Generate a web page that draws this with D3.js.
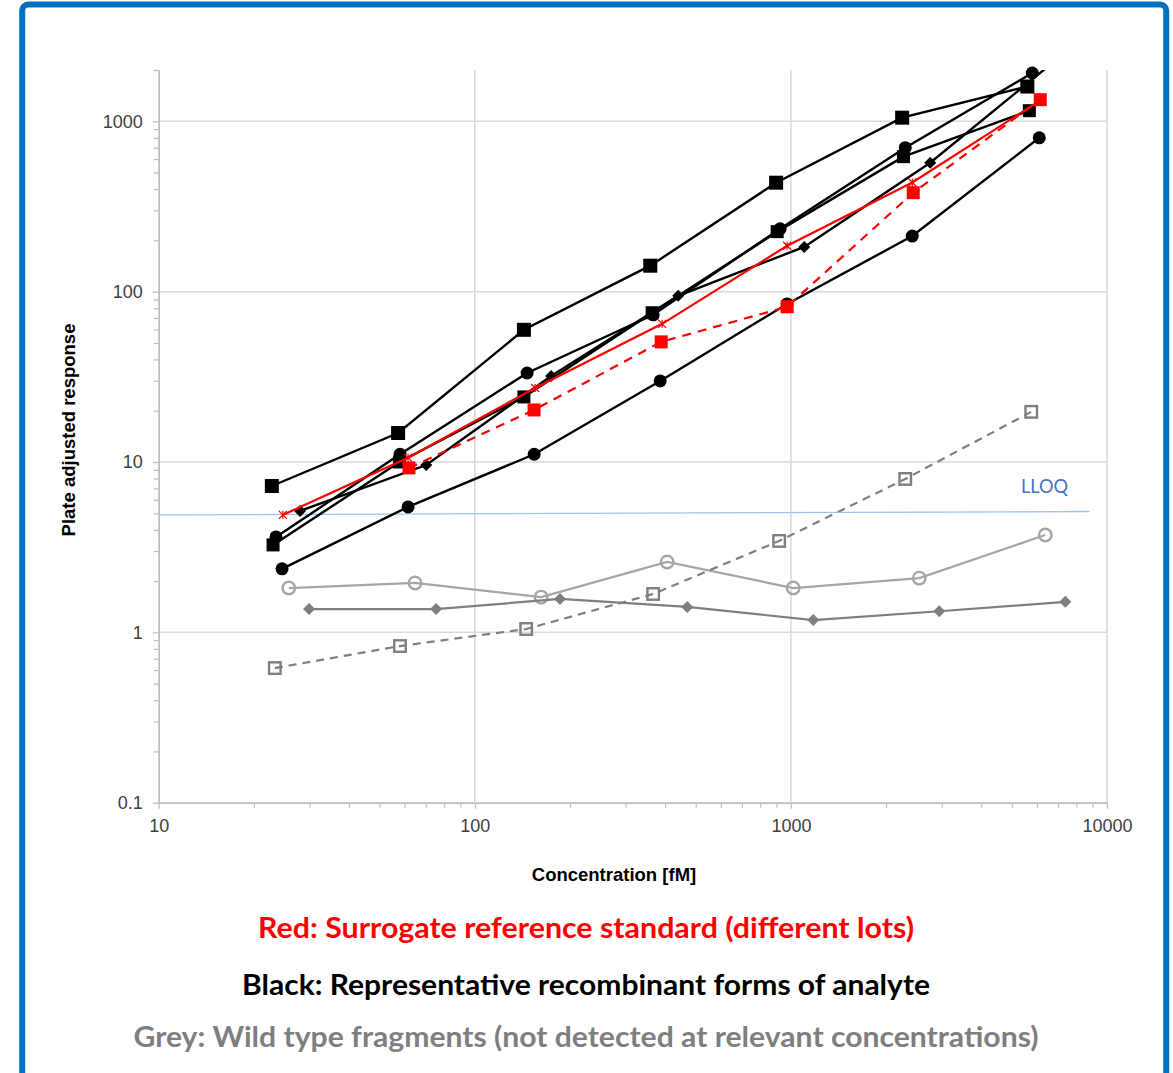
<!DOCTYPE html>
<html>
<head>
<meta charset="utf-8">
<script src="https://cdn.jsdelivr.net/npm/d3@7"></script>
<style>
  body { margin: 0; background: #fff; }
  svg { display: block; }
</style>
</head>
<body>
<div id="chart"></div>
<script>
// axis settings
var yMajor = [0.1, 1, 10, 100, 1000];
var xMajor = [10, 100, 1000, 10000];
var xGrid = [100, 1000, 10000];
var yGrid = [1, 10, 100, 1000];

// black: recombinant forms of analyte
var blackSq1X = [22.8, 57.2, 143, 359, 898, 2249, 5598];
var blackSq1Y = [7.23, 14.8, 59.7, 142, 436, 1050, 1600];
var blackSq2X = [23.0, 57.8, 143, 364, 905, 2270, 5680];
var blackSq2Y = [3.26, 10.0, 24.1, 75.2, 225, 620, 1154];
var blackCi1X = [23.5, 58.0, 146.4, 366.7, 924.8, 2300, 5801];
var blackCi1Y = [3.63, 11.1, 33.3, 73.1, 234, 700, 1920];
var blackCi2X = [24.56, 61.5, 154.1, 385.9, 973, 2421, 6106];
var blackCi2Y = [2.36, 5.45, 11.1, 29.9, 84.7, 212, 800];
var blackDiX = [28.0, 70.2, 174.4, 440, 1102, 2759, 6914];
var blackDiY = [5.16, 9.6, 32.0, 94.5, 183, 571, 2300];

// red: surrogate reference standard
var redSolidX = [24.7, 61.5, 155.2, 391.5, 973, 2421, 6061];
var redSolidY = [4.89, 10.6, 27.2, 64.7, 186, 437, 1303];
var redDashX = [61.9, 154, 388.7, 973, 2438, 6150];
var redDashY = [9.23, 20.2, 50.7, 81.5, 381, 1339];

// grey: wild type fragments
var greyCiX = [25.8, 64.7, 162.1, 406, 1017, 2547, 6379];
var greyCiY = [1.82, 1.95, 1.61, 2.59, 1.82, 2.08, 3.73];
var greyDiX = [29.9, 75.4, 186, 470, 1177, 2947, 7380];
var greyDiY = [1.37, 1.37, 1.57, 1.41, 1.18, 1.33, 1.51];
var greySqX = [23.3, 58.0, 145.4, 366.7, 918, 2300, 5759];
var greySqY = [0.617, 0.831, 1.046, 1.68, 3.44, 7.95, 19.7];

var lloqX = [10, 8800];
var lloqY = [4.89, 5.12];

var legendLines = [
    {text: "Red: Surrogate reference standard (different lots)", color: "#ff0000", len: 656},
    {text: "Black: Representative recombinant forms of analyte", color: "#000000", len: 688},
    {text: "Grey: Wild type fragments (not detected at relevant concentrations)", color: "#7f7f7f", len: 905}
];

var W = 1173, H = 1073;
var svg = d3.select("#chart").append("svg")
    .attr("width", W)
    .attr("height", H);

// blue frame
svg.append("rect")
    .attr("x", 22.2).attr("y", 4.6)
    .attr("width", 1144).attr("height", 1120)
    .attr("rx", 6)
    .attr("fill", "none")
    .attr("stroke", "#0070c0")
    .attr("stroke-width", 6);

var x = d3.scaleLog().domain([10, 10000]).range([158.7, 1107]);
var y = d3.scaleLog().domain([0.1, 2000]).range([802.7, 70]);

var gridColor = "#d9d9d9", axisColor = "#bfbfbf";

// gridlines
svg.append("g").selectAll("line").data(yGrid).enter().append("line")
    .attr("x1", x(10)).attr("x2", x(10000))
    .attr("y1", function(d) { return y(d); })
    .attr("y2", function(d) { return y(d); })
    .attr("stroke", gridColor).attr("stroke-width", 1.5);
svg.append("g").selectAll("line").data(xGrid).enter().append("line")
    .attr("y1", y(0.1)).attr("y2", y(2000))
    .attr("x1", function(d) { return x(d); })
    .attr("x2", function(d) { return x(d); })
    .attr("stroke", gridColor).attr("stroke-width", 1.5);

// minor tick values
var yMinor = [], xMinor = [];
[0.1, 1, 10, 100, 1000].forEach(function(b) {
    for (var k = 2; k <= 9; k++) if (b * k <= 2000) yMinor.push(b * k);
});
yMinor.push(2000);
[10, 100, 1000].forEach(function(b) {
    for (var k = 2; k <= 9; k++) xMinor.push(b * k);
});

function styleAxis(g) {
    g.select(".domain").attr("stroke", axisColor).attr("stroke-width", 1.5);
    g.selectAll(".tick line").attr("stroke", axisColor).attr("stroke-width", 1.2);
    g.selectAll("text")
        .attr("fill", "#404040")
        .attr("font-family", "'Liberation Sans', Arial, sans-serif")
        .attr("font-size", 18);
}

svg.append("g")
    .attr("transform", "translate(" + x(10) + ",0)")
    .call(d3.axisLeft(y).tickValues(yMajor).tickSize(6).tickSizeOuter(0).tickPadding(10)
        .tickFormat(function(d) { return String(d); }))
    .call(styleAxis);
svg.append("g")
    .attr("transform", "translate(" + x(10) + ",0)")
    .call(d3.axisLeft(y).tickValues(yMinor).tickSize(5).tickSizeOuter(0).tickFormat(""))
    .call(styleAxis);

svg.append("g")
    .attr("transform", "translate(0," + y(0.1) + ")")
    .call(d3.axisBottom(x).tickValues(xMajor).tickSize(6).tickSizeOuter(0).tickPadding(11)
        .tickFormat(function(d) { return String(d); }))
    .call(styleAxis);
svg.append("g")
    .attr("transform", "translate(0," + y(0.1) + ")")
    .call(d3.axisBottom(x).tickValues(xMinor).tickSize(5).tickSizeOuter(0).tickFormat(""))
    .call(styleAxis);

// axis titles
svg.append("text")
    .attr("x", 614).attr("y", 881)
    .attr("text-anchor", "middle")
    .attr("font-family", "'Liberation Sans', Arial, sans-serif")
    .attr("font-weight", "bold").attr("font-size", 18.5)
    .text("Concentration [fM]");
svg.append("text")
    .attr("transform", "translate(75,430) rotate(-90)")
    .attr("text-anchor", "middle")
    .attr("font-family", "'Liberation Sans', Arial, sans-serif")
    .attr("font-weight", "bold").attr("font-size", 18.5)
    .text("Plate adjusted response");

// clip lines to the plot area
svg.append("clipPath").attr("id", "plotClip")
    .append("rect")
    .attr("x", x(10)).attr("y", y(2000))
    .attr("width", x(10000) - x(10)).attr("height", y(0.1) - y(2000));

var plot = svg.append("g");

var line = d3.line()
    .x(function(d) { return x(d[0]); })
    .y(function(d) { return y(d[1]); });

function zip(xs, ys) {
    return xs.map(function(v, i) { return [v, ys[i]]; });
}

function drawSeries(xs, ys, opt) {
    var pts = zip(xs, ys);
    plot.append("path")
        .datum(pts)
        .attr("clip-path", "url(#plotClip)")
        .attr("d", line)
        .attr("fill", "none")
        .attr("stroke", opt.color)
        .attr("stroke-width", opt.width || 2.4)
        .attr("stroke-dasharray", opt.dash || null);

    var g = plot.append("g");
    var s = opt.size;
    // markers outside the axis range are dropped, like Excel
    pts.filter(function(p) { return p[1] <= 2000; }).forEach(function(p) {
        var cx = x(p[0]), cy = y(p[1]);
        if (opt.marker == "square") {
            g.append("rect")
                .attr("x", cx - s / 2).attr("y", cy - s / 2)
                .attr("width", s).attr("height", s)
                .attr("fill", opt.open ? "none" : opt.mcolor)
                .attr("stroke", opt.mcolor)
                .attr("stroke-width", opt.open ? 2.4 : 0);
        } else if (opt.marker == "circle") {
            g.append("circle")
                .attr("cx", cx).attr("cy", cy).attr("r", s / 2)
                .attr("fill", opt.open ? "none" : opt.mcolor)
                .attr("stroke", opt.mcolor)
                .attr("stroke-width", opt.open ? 2.4 : 0);
        } else if (opt.marker == "diamond") {
            g.append("path")
                .attr("d", "M" + cx + "," + (cy - s / 2) + "L" + (cx + s / 2) + "," + cy +
                    "L" + cx + "," + (cy + s / 2) + "L" + (cx - s / 2) + "," + cy + "Z")
                .attr("fill", opt.mcolor);
        } else if (opt.marker == "star") {
            var r = s / 2;
            g.append("path")
                .attr("d", "M" + (cx - r) + "," + (cy - r) + "L" + (cx + r) + "," + (cy + r) +
                    "M" + (cx - r) + "," + (cy + r) + "L" + (cx + r) + "," + (cy - r) +
                    "M" + cx + "," + (cy - r) + "L" + cx + "," + (cy + r))
                .attr("stroke", opt.mcolor)
                .attr("stroke-width", 1.2)
                .attr("fill", "none");
        }
    });
}

// grey
drawSeries(greyCiX, greyCiY, {color: "#a6a6a6", mcolor: "#a6a6a6", marker: "circle", open: true, size: 12.5, width: 2.2});
drawSeries(greyDiX, greyDiY, {color: "#7f7f7f", mcolor: "#7f7f7f", marker: "diamond", size: 12, width: 2.2});
drawSeries(greySqX, greySqY, {color: "#7f7f7f", mcolor: "#7f7f7f", marker: "square", open: true, size: 11.5, width: 2.2, dash: "8,6"});

// LLOQ
plot.append("path")
    .datum(zip(lloqX, lloqY))
    .attr("d", line)
    .attr("fill", "none")
    .attr("stroke", "#9dc3e6")
    .attr("stroke-width", 1.3);
svg.append("text")
    .attr("x", 1021).attr("y", 493)
    .attr("font-family", "Lato, 'Noto Sans', sans-serif")
    .attr("font-size", 20)
    .attr("fill", "#4472c4")
    .attr("textLength", 47)
    .attr("lengthAdjust", "spacingAndGlyphs")
    .text("LLOQ");

// black
drawSeries(blackSq1X, blackSq1Y, {color: "#000", mcolor: "#000", marker: "square", size: 14});
drawSeries(blackSq2X, blackSq2Y, {color: "#000", mcolor: "#000", marker: "square", size: 13});
drawSeries(blackCi1X, blackCi1Y, {color: "#000", mcolor: "#000", marker: "circle", size: 13});
drawSeries(blackCi2X, blackCi2Y, {color: "#000", mcolor: "#000", marker: "circle", size: 13});
drawSeries(blackDiX, blackDiY, {color: "#000", mcolor: "#000", marker: "diamond", size: 12});

// red
drawSeries(redSolidX, redSolidY, {color: "#ff0000", mcolor: "#ff0000", marker: "star", size: 8, width: 2.2});
drawSeries(redDashX, redDashY, {color: "#ff0000", mcolor: "#ff0000", marker: "square", size: 13, width: 2.2, dash: "9,7"});

// legend text
svg.append("g").selectAll("text").data(legendLines).enter().append("text")
    .attr("x", 586)
    .attr("y", function(d, i) { return [938, 995, 1047][i]; })
    .attr("text-anchor", "middle")
    .attr("font-family", "Lato, 'Noto Sans', sans-serif")
    .attr("font-weight", "bold")
    .attr("font-size", 29)
    .attr("fill", function(d) { return d.color; })
    .attr("textLength", function(d) { return d.len; })
    .attr("lengthAdjust", "spacingAndGlyphs")
    .text(function(d) { return d.text; });
</script>
</body>
</html>
